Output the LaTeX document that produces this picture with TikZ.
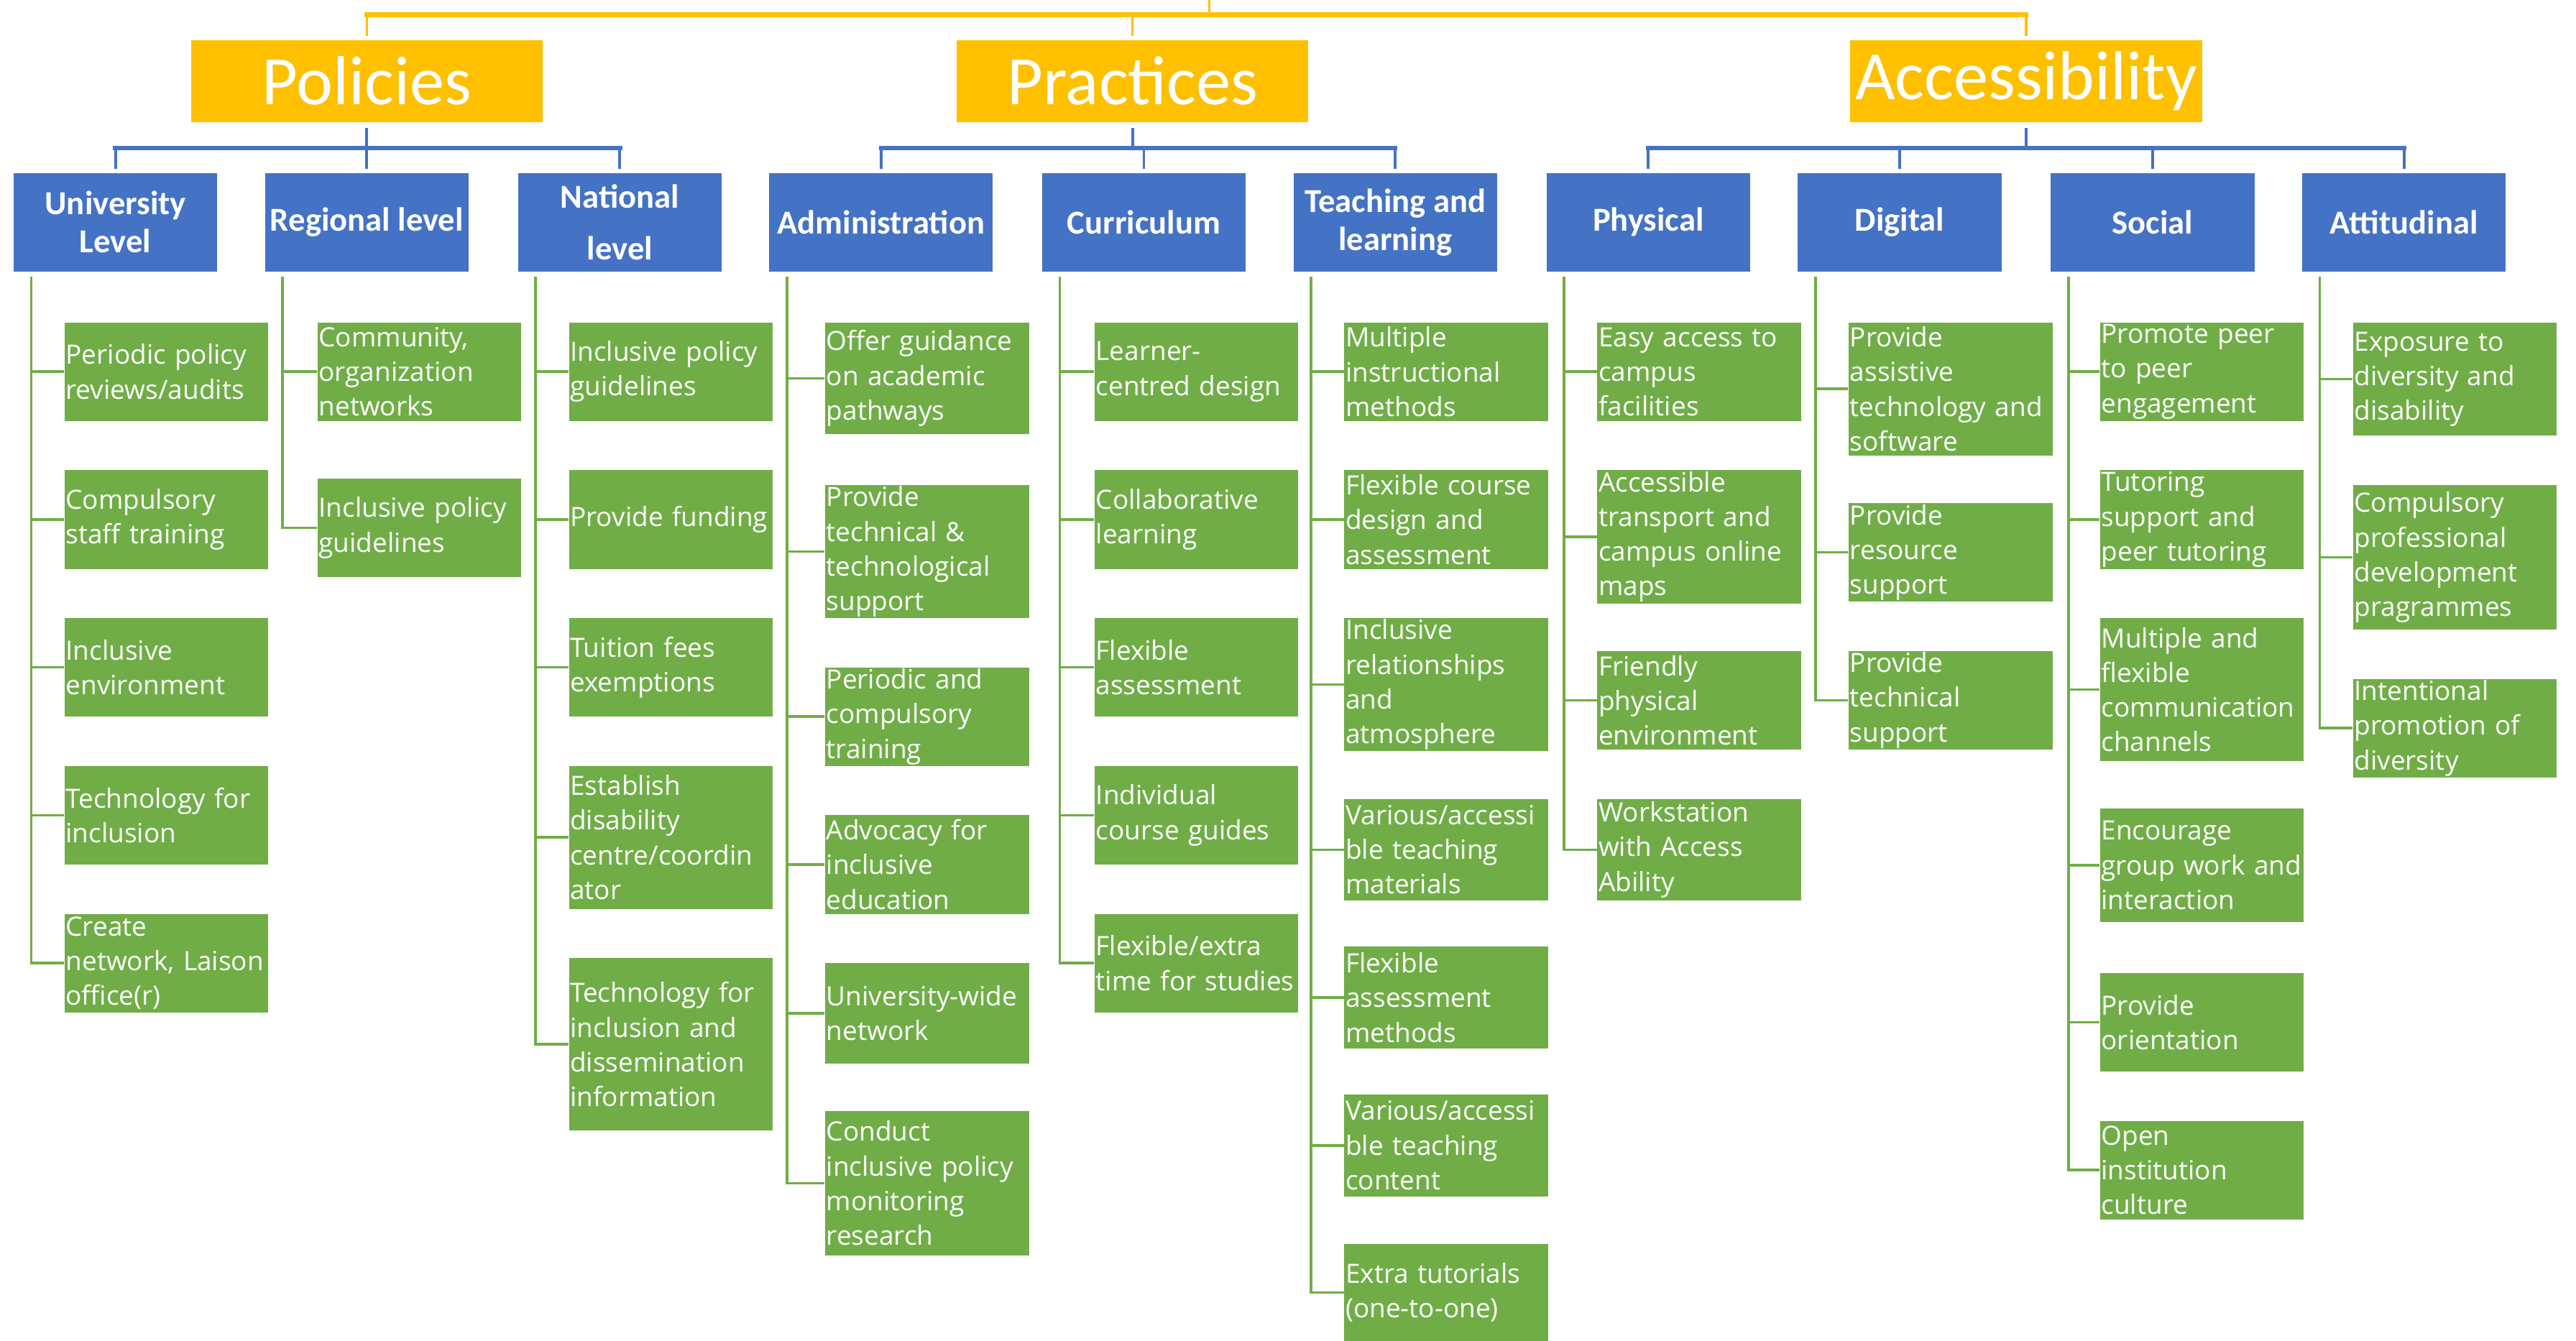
\documentclass[tikz,border=0pt]{standalone}
\usepackage{fontspec}
\setmainfont{Carlito}
\newfontfamily\leaffont{Open Sans}
\definecolor{hdyellow}{HTML}{FFC000}
\definecolor{grpblue}{HTML}{4472C4}
\definecolor{leafgreen}{HTML}{70AD47}
\tikzset{
    headbox/.style={fill=hdyellow, text=white, anchor=north west, inner sep=0pt,
      minimum width=5.35cm, minimum height=1.25cm, font=\fontsize{30}{34}\selectfont},
    groupbox/.style={fill=grpblue, text=white, anchor=north west, inner xsep=0pt,
      minimum width=3.1cm, minimum height=1.5cm, align=center,
      font=\bfseries\fontsize{14.5}{16.5}\selectfont},
    leafbox/.style={fill=leafgreen, text=white, anchor=north west, text width=3.06cm,
      inner xsep=0.02cm, inner ysep=0pt, align=left,
      font=\leaffont\fontsize{11.5}{15}\selectfont},
    ylink/.style={draw=hdyellow, line width=1.1pt, line cap=rect},
    blink/.style={draw=grpblue, line width=1.2pt, line cap=rect},
    glink/.style={draw=leafgreen, line width=1.1pt},
  }
% one green list under a blue box: name, x of the boxes, items
\newcommand{\leafcolumn}[3]{%
  \path (#1.south west) ++(11,3) coordinate (#1-top);
  \foreach \i/\y/\h/\txt in {#3} {
    \node[leafbox, minimum height=\h*0.025cm] (#1-\i) at (#2,\y) {\txt};
    \draw[glink] (#1-top) |- (#1-\i.west);
  }
}

\begin{document}
\begin{tikzpicture}[x=0.025cm, y=-0.025cm]
    \useasboundingbox (0,0) rectangle (1568,816);
    % top level
    \node[headbox] (pol) at (116,24) {Policies};
    \node[headbox] (pra) at (582,24) {Practices};
    \node[headbox] (acc) at (1126,24) {Accessibility};
    \coordinate (root) at (736,0);
    \coordinate (rootbar) at (736,9);
    \draw[ylink] (root) -- (rootbar);
    \draw[ylink, line width=2pt] (rootbar -| pol.north) -- (rootbar -| acc.north);
    \foreach \c in {pol,pra,acc}
      \draw[ylink, shorten >=0.075cm] (rootbar -| \c.north) -- (\c.north);
    % second level
    \node[groupbox] (uni) at (8,105) {University\\Level};
    \node[groupbox] (reg) at (161,105) {Regional level};
    \node[groupbox] (nat) at (315,105) {National\\[6pt]level};
    \node[groupbox, minimum width=3.4cm] (adm) at (468,105) {Administration};
    \node[groupbox] (cur) at (634,105) {Curriculum};
    \node[groupbox] (tea) at (787,105) {Teaching and\\learning};
    \node[groupbox] (phy) at (941,105) {Physical};
    \node[groupbox] (dig) at (1094,105) {Digital};
    \node[groupbox] (soc) at (1248,105) {Social};
    \node[groupbox] (att) at (1401,105) {Attitudinal};
    \coordinate (polbar) at (pol.south |- 0,90);
    \coordinate (prabar) at (pra.south |- 0,90);
    \coordinate (accbar) at (acc.south |- 0,90);
    \draw[blink, shorten <=0.1cm] (pol.south) -- (polbar);
    \draw[blink, shorten <=0.1cm] (pra.south) -- (prabar);
    \draw[blink, shorten <=0.1cm] (acc.south) -- (accbar);
    \draw[blink, line width=2pt] (polbar -| uni.north) -- (polbar -| nat.north);
    \draw[blink, line width=2pt] (prabar -| adm.north) -- (prabar -| tea.north);
    \draw[blink, line width=2pt] (accbar -| phy.north) -- (accbar -| att.north);
    \foreach \c in {uni,reg,nat}
      \draw[blink, shorten >=0.075cm] (polbar -| \c.north) -- (\c.north);
    \foreach \c in {adm,cur,tea}
      \draw[blink, shorten >=0.075cm] (prabar -| \c.north) -- (\c.north);
    \foreach \c in {phy,dig,soc,att}
      \draw[blink, shorten >=0.075cm] (accbar -| \c.north) -- (\c.north);
    % policies
    \leafcolumn{uni}{39}{1/196/60/{Periodic policy\\reviews/audits},
      2/286/60/{Compulsory\\staff training}, 3/376/60/{Inclusive\\environment},
      4/466/60/{Technology for\\inclusion}, 5/556/60/{Create\\network, Laison\\office(r)}}
    \leafcolumn{reg}{193}{1/196/60/{Community,\\organization\\networks},
      2/291/60/{Inclusive policy\\guidelines}}
    \leafcolumn{nat}{346}{1/196/60/{Inclusive policy\\guidelines},
      2/286/60/{Provide funding}, 3/376/60/{Tuition fees\\exemptions},
      4/466/87/{Establish\\disability\\centre/coordin\\ator},
      5/583/105/{Technology for\\inclusion and\\dissemination\\information}}
    % practices
    \leafcolumn{adm}{502}{1/196/68/{Offer guidance\\on academic\\pathways},
      2/295/81/{Provide\\technical \&\\technological\\support},
      3/406/60/{Periodic and\\compulsory\\training},
      4/496/60/{Advocacy for\\inclusive\\education},
      5/586/61/{University-wide\\network},
      6/676/88/{Conduct\\inclusive policy\\monitoring\\research}}
    \leafcolumn{cur}{666}{1/196/60/{Learner-\\centred design},
      2/286/60/{Collaborative\\learning}, 3/376/60/{Flexible\\assessment},
      4/466/60/{Individual\\course guides}, 5/556/60/{Flexible/extra\\time for studies}}
    \leafcolumn{tea}{818}{1/196/60/{Multiple\\instructional\\methods},
      2/286/60/{Flexible course\\design and\\assessment},
      3/376/81/{Inclusive\\relationships\\and\\atmosphere},
      4/486/62/{Various/accessi\\ble teaching\\materials},
      5/576/62/{Flexible\\assessment\\methods},
      6/666/62/{Various/accessi\\ble teaching\\content},
      7/757/59/{Extra tutorials\\(one-to-one)}}
    % accessibility
    \leafcolumn{phy}{972}{1/196/60/{Easy access to\\campus\\facilities},
      2/286/81/{Accessible\\transport and\\campus online\\maps},
      3/396/60/{Friendly\\physical\\environment},
      4/486/62/{Workstation\\with Access\\Ability}}
    \leafcolumn{dig}{1125}{1/196/81/{Provide\\assistive\\technology and\\software},
      2/306/60/{Provide\\resource\\support}, 3/396/60/{Provide\\technical\\support}}
    \leafcolumn{soc}{1278}{1/196/60/{Promote peer\\to peer\\engagement},
      2/286/60/{Tutoring\\support and\\peer tutoring},
      3/376/87/{Multiple and\\flexible\\communication\\channels},
      4/492/69/{Encourage\\group work and\\interaction},
      5/592/60/{Provide\\orientation}, 6/682/60/{Open\\institution\\culture}}
    \leafcolumn{att}{1432}{1/196/69/{Exposure to\\diversity and\\disability},
      2/295/88/{Compulsory\\professional\\development\\pragrammes},
      3/413/60/{Intentional\\promotion of\\diversity}}
\end{tikzpicture}
\end{document}
